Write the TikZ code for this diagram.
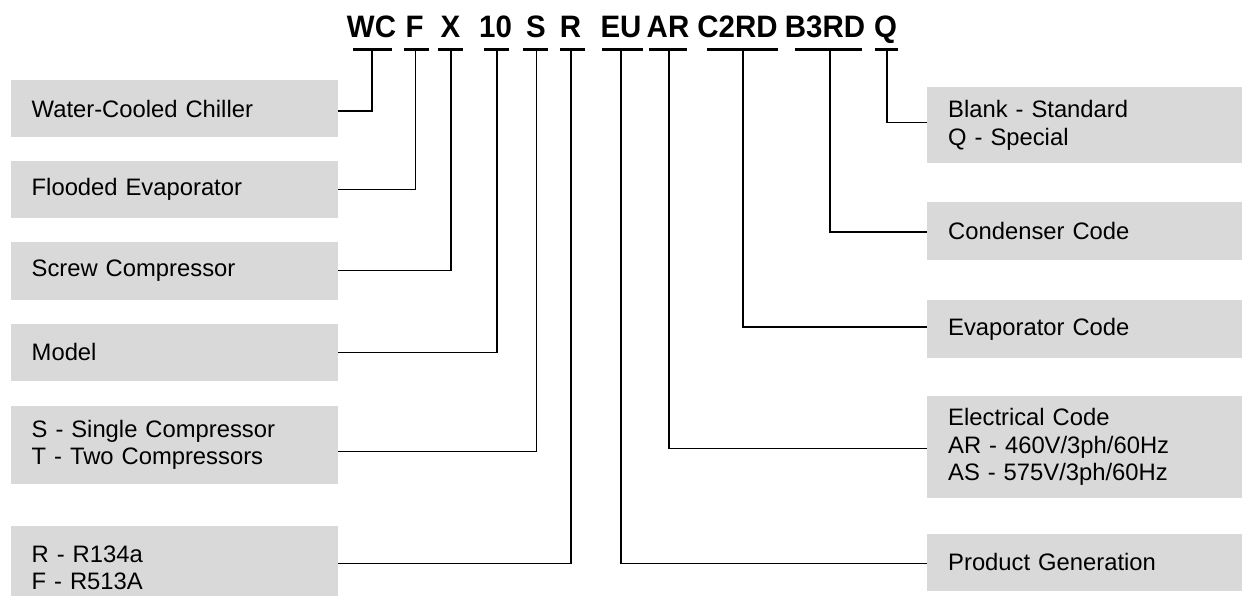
\documentclass[tikz,border=0pt]{standalone}
\usepackage{fontspec}
\setmainfont{Liberation Sans}
\usetikzlibrary{calc}
\definecolor{boxgray}{HTML}{D9D9D9}
\newcommand{\codetxt}[1]{\scalebox{0.95}[1]{#1}}
\begin{document}
\begin{tikzpicture}[x=1pt,y=-1pt,
  code/.style={font=\fontsize{31}{36}\selectfont\bfseries, anchor=base, inner sep=0pt},
  bar/.style={line width=3pt},
  conn/.style={line width=1.3pt},
  lbox/.style={fill=boxgray, anchor=north west, inner xsep=21pt, inner ysep=0pt,
    text width=285pt, align=left, font=\fontsize{23.8}{27.4}\selectfont},
  rbox/.style={fill=boxgray, anchor=north west, inner xsep=21.5pt, inner ysep=0pt,
    text width=297pt, align=left, font=\fontsize{23.8}{27.4}\selectfont}]
\clip (0,0) rectangle (1242,596);
\fill[white] (0,0) rectangle (1242,596);

% code letters
\node[code] (tWC) at (371.5,37.3) {\codetxt{WC}};
\node[code] (tF) at (414.5,37.3) {\codetxt{F}};
\node[code] (tX) at (450.5,37.3) {\codetxt{X}};
\node[code] (t10) at (495.5,37.3) {\codetxt{10}};
\node[code] (tS) at (536,37.3) {\codetxt{S}};
\node[code] (tR) at (570.5,37.3) {\codetxt{R}};
\node[code] (tEU) at (621,37.3) {\codetxt{EU}};
\node[code] (tAR) at (668,37.3) {\codetxt{AR}};
\node[code] (tC) at (737.5,37.3) {\codetxt{C2RD}};
\node[code] (tB) at (825,37.3) {\codetxt{B3RD}};
\node[code] (tQ) at (885.5,37.3) {\codetxt{Q}};

% bars under codes
\foreach \cx/\hw in {372.5/19.5, 416.5/12.5, 450.5/12.5, 496.5/12.5, 535.5/12.5,
  572.5/12.5, 622.5/20.5, 668/19, 742.5/35.5, 828.5/33.5, 886.5/11.5}
  \draw[bar] (\cx-\hw,50) -- (\cx+\hw,50);

% stem tops
\coordinate (sWC) at (372,50);
\coordinate (sF) at (415.5,50);
\coordinate (sX) at (451,50);
\coordinate (s10) at (497,50);
\coordinate (sS) at (536.5,50);
\coordinate (sR) at (571,50);
\coordinate (sEU) at (621,50);
\coordinate (sAR) at (669,50);
\coordinate (sC) at (743,50);
\coordinate (sB) at (830,50);
\coordinate (sQ) at (887,50);

% left boxes
\node[lbox, minimum height=57pt] (wc) at (10.5,80) {Water-Cooled Chiller};
\node[lbox, minimum height=57pt] (fe) at (10.5,161) {Flooded Evaporator};
\node[lbox, minimum height=57.6pt] (sc) at (10.5,241.7) {Screw Compressor};
\node[lbox, minimum height=57.4pt] (md) at (10.5,323.3) {Model};
\node[lbox, minimum height=77.3pt] (sg) at (10.5,406) {S - Single Compressor\\T - Two Compressors};
\node[lbox, minimum height=84.2pt] (rf) at (10.5,525.3) {R - R134a\\F - R513A};

% right boxes
\node[rbox, minimum height=76.6pt] (q) at (926.5,86.7) {Blank - Standard\\Q - Special};
\node[rbox, minimum height=57.6pt] (cd) at (926.5,201.7) {Condenser Code};
\node[rbox, minimum height=57.3pt] (ev) at (926.5,300) {Evaporator Code};
\node[rbox, minimum height=101.3pt] (el) at (926.5,396) {Electrical Code\\AR - 460V/3ph/60Hz\\AS - 575V/3ph/60Hz};
\node[rbox, minimum height=57.4pt] (pg) at (926.5,533.3) {Product Generation};

% connectors
\draw[conn] (sWC) |- ([yshift=-2.2pt]wc.east);
\draw[conn] (sF) |- (fe.east);
\draw[conn] (sX) |- (sc.east);
\draw[conn] (s10) |- (md.east);
\draw[conn] (sS) |- ([yshift=-6.3pt]sg.east);
\draw[conn] (sR) |- ([yshift=4.4pt]rf.east);
\draw[conn] (sQ) |- ([yshift=2.5pt]q.west);
\draw[conn] (sB) |- ([yshift=-1.2pt]cd.west);
\draw[conn] (sC) |- ([yshift=2pt]ev.west);
\draw[conn] (sAR) |- ([yshift=-1.6pt]el.west);
\draw[conn] (sEU) |- ([yshift=-1.3pt]pg.west);
\end{tikzpicture}
\end{document}
